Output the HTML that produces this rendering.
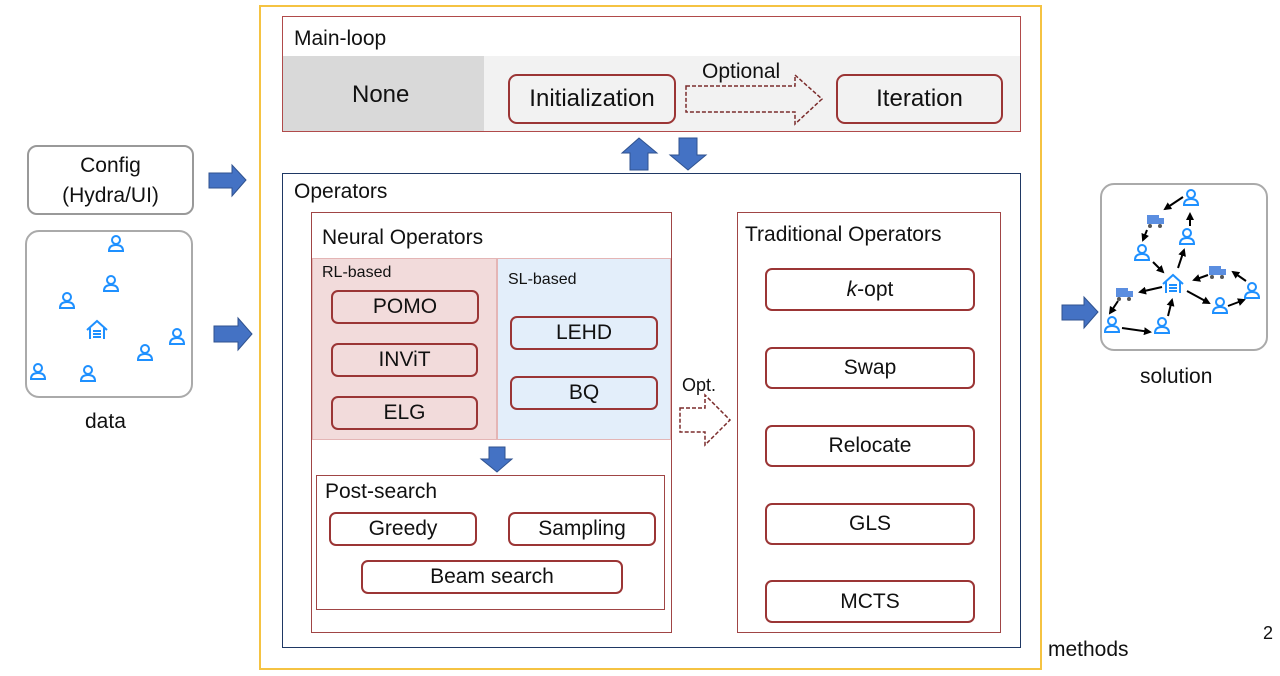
<!DOCTYPE html>
<html><head><meta charset="utf-8"><style>
body{margin:0;width:1280px;height:676px;background:#fff;position:relative;overflow:hidden;font-family:"Liberation Sans",sans-serif;color:#111}
.a{position:absolute;box-sizing:border-box}
.b{position:absolute;box-sizing:border-box;border:2px solid #9b3535;border-radius:7px;display:flex;align-items:center;justify-content:center;font-size:21px}
.t{position:absolute;white-space:nowrap}
svg{position:absolute;left:0;top:0}
</style></head><body>
<div class="a" style="left:259px;top:5px;width:783px;height:665px;border:2px solid #f5c342"></div>
<div class="a" style="left:282px;top:16px;width:739px;height:116px;border:1.5px solid #b04a4a;background:#fff"></div>
<div class="a" style="left:283px;top:56px;width:201px;height:75px;background:#d9d9d9"></div>
<div class="a" style="left:484px;top:56px;width:536px;height:75px;background:#f2f2f2"></div>
<div class="t" style="left:294px;top:27px;font-size:21px">Main-loop</div>
<div class="t" style="left:352px;top:81px;font-size:24px">None</div>
<div class="b" style="left:508px;top:74px;width:168px;height:50px;font-size:24px;border-radius:9px">Initialization</div>
<div class="b" style="left:836px;top:74px;width:167px;height:50px;font-size:24px;border-radius:9px">Iteration</div>
<div class="t" style="left:702px;top:60px;font-size:21px">Optional</div>

<div class="a" style="left:282px;top:173px;width:739px;height:475px;border:1.5px solid #1f3864"></div>
<div class="t" style="left:294px;top:180px;font-size:21px">Operators</div>

<div class="a" style="left:311px;top:212px;width:361px;height:421px;border:1.5px solid #a04545"></div>
<div class="t" style="left:322px;top:226px;font-size:21px">Neural Operators</div>
<div class="a" style="left:312px;top:258px;width:185px;height:182px;background:#f2dbdb;border:1px solid #e4b5b5"></div>
<div class="a" style="left:497px;top:258px;width:174px;height:182px;background:#e3eefa;border:1px solid #e4b5b5"></div>
<div class="t" style="left:322px;top:264px;font-size:16px">RL-based</div>
<div class="t" style="left:508px;top:271px;font-size:16px">SL-based</div>
<div class="b" style="left:331px;top:290px;width:148px;height:34px;background:#f2dbdb">POMO</div>
<div class="b" style="left:331px;top:343px;width:147px;height:34px;background:#f2dbdb">INViT</div>
<div class="b" style="left:331px;top:396px;width:147px;height:34px;background:#f2dbdb">ELG</div>
<div class="b" style="left:510px;top:316px;width:148px;height:34px;background:#e3eefa">LEHD</div>
<div class="b" style="left:510px;top:376px;width:148px;height:34px;background:#e3eefa">BQ</div>

<div class="a" style="left:316px;top:475px;width:349px;height:135px;border:1.5px solid #a04545"></div>
<div class="t" style="left:325px;top:480px;font-size:21px">Post-search</div>
<div class="b" style="left:329px;top:512px;width:148px;height:34px">Greedy</div>
<div class="b" style="left:508px;top:512px;width:148px;height:34px">Sampling</div>
<div class="b" style="left:361px;top:560px;width:262px;height:34px">Beam search</div>

<div class="t" style="left:682px;top:375px;font-size:18px">Opt.</div>

<div class="a" style="left:737px;top:212px;width:264px;height:421px;border:1.5px solid #a04545"></div>
<div class="t" style="left:745px;top:223px;font-size:21px">Traditional Operators</div>
<div class="b" style="left:765px;top:268px;width:210px;height:43px"><i>k</i>-opt</div>
<div class="b" style="left:765px;top:347px;width:210px;height:42px">Swap</div>
<div class="b" style="left:765px;top:425px;width:210px;height:42px">Relocate</div>
<div class="b" style="left:765px;top:503px;width:210px;height:42px">GLS</div>
<div class="b" style="left:765px;top:580px;width:210px;height:43px">MCTS</div>

<div class="a" style="left:27px;top:145px;width:167px;height:70px;border:2px solid #999;border-radius:10px;font-size:21px;text-align:center;line-height:30px;padding-top:4px">Config<br>(Hydra/UI)</div>
<div class="a" style="left:25px;top:230px;width:168px;height:168px;border:2px solid #aaa;border-radius:14px"></div>
<div class="t" style="left:85px;top:410px;font-size:21px">data</div>
<div class="a" style="left:1100px;top:183px;width:168px;height:168px;border:2px solid #aaa;border-radius:14px"></div>
<div class="t" style="left:1140px;top:365px;font-size:21px">solution</div>
<div class="t" style="left:1048px;top:638px;font-size:21px">methods</div>
<div class="t" style="left:1263px;top:623px;font-size:18px">2</div>

<svg width="1280" height="676" viewBox="0 0 1280 676">
<defs>
<g id="p"><circle cx="0" cy="-4" r="4" fill="none" stroke="#1e90ff" stroke-width="2"/><path d="M-7,7 Q-7,1 0,1 Q7,1 7,7 Z" fill="none" stroke="#1e90ff" stroke-width="2"/></g>
<g id="h"><path d="M-10,0 L0,-9 L10,0 M-7,-2 V9 M7,-2 V9 M-4,1 H4 M-4,4 H4 M-4,7 H4" fill="none" stroke="#1e90ff" stroke-width="2"/></g>
<g id="tr"><rect x="-8" y="-5" width="12" height="9" fill="#5b8ee0"/><rect x="4" y="-2" width="5" height="6" fill="#5b8ee0"/><circle cx="-5" cy="6" r="2" fill="#555"/><circle cx="5" cy="6" r="2" fill="#555"/></g>
<marker id="m" markerUnits="userSpaceOnUse" markerWidth="8" markerHeight="8" refX="6" refY="4" orient="auto"><path d="M0,0 L8,4 L0,8 Z" fill="#000"/></marker>
</defs>
<g fill="#4472c4" stroke="#2f528f" stroke-width="1">
<path d="M209,173 H232 V165 L246,180 L232,196 V188 H209 Z"/>
<path d="M214,326 H238 V318 L252,334 L238,350 V342 H214 Z"/>
<path d="M1062,305 H1084 V297 L1098,312 L1084,328 V320 H1062 Z"/>
<path d="M630,170 V153 H622 L639,138 L657,153 H648 V170 Z"/>
<path d="M679,138 V155 H670 L688,170 L706,155 H697 V138 Z"/>
<path d="M489,447 V459 H481 L497,472 L512,459 H505 V447 Z"/>
</g>
<g fill="none" stroke="#7b2c2c" stroke-width="1.5" stroke-dasharray="4,2">
<path d="M686,86 H795 V75 L822,99 L795,124 V112 H686 Z"/>
<path d="M680,408 H705 V395 L730,420 L705,445 V432 H680 Z"/>
</g>
<use href="#p" x="116" y="244"/><use href="#p" x="111" y="284"/><use href="#p" x="67" y="301"/><use href="#p" x="177" y="337"/><use href="#p" x="145" y="353"/><use href="#p" x="38" y="372"/><use href="#p" x="88" y="374"/><use href="#h" x="97" y="330"/>
<use href="#p" x="1191" y="198"/><use href="#p" x="1187" y="237"/><use href="#p" x="1142" y="253"/><use href="#p" x="1162" y="326"/><use href="#p" x="1112" y="325"/><use href="#p" x="1220" y="306"/><use href="#p" x="1252" y="291"/><use href="#h" x="1173" y="284"/>
<use href="#tr" x="1155" y="220"/><use href="#tr" x="1217" y="271"/><use href="#tr" x="1124" y="293"/>
<g stroke="#000" stroke-width="2" marker-end="url(#m)">
<line x1="1183" y1="197" x2="1165" y2="209"/><line x1="1190" y1="226" x2="1190" y2="214"/>
<line x1="1147" y1="230" x2="1143" y2="240"/><line x1="1153" y1="262" x2="1163" y2="272"/>
<line x1="1178" y1="268" x2="1184" y2="250"/><line x1="1208" y1="275" x2="1194" y2="280"/>
<line x1="1246" y1="281" x2="1233" y2="272"/><line x1="1228" y1="306" x2="1244" y2="300"/>
<line x1="1187" y1="291" x2="1209" y2="303"/><line x1="1162" y1="287" x2="1140" y2="292"/>
<line x1="1118" y1="301" x2="1110" y2="313"/><line x1="1122" y1="328" x2="1150" y2="332"/>
<line x1="1168" y1="316" x2="1172" y2="300"/>
</g>
</svg>
</body></html>
